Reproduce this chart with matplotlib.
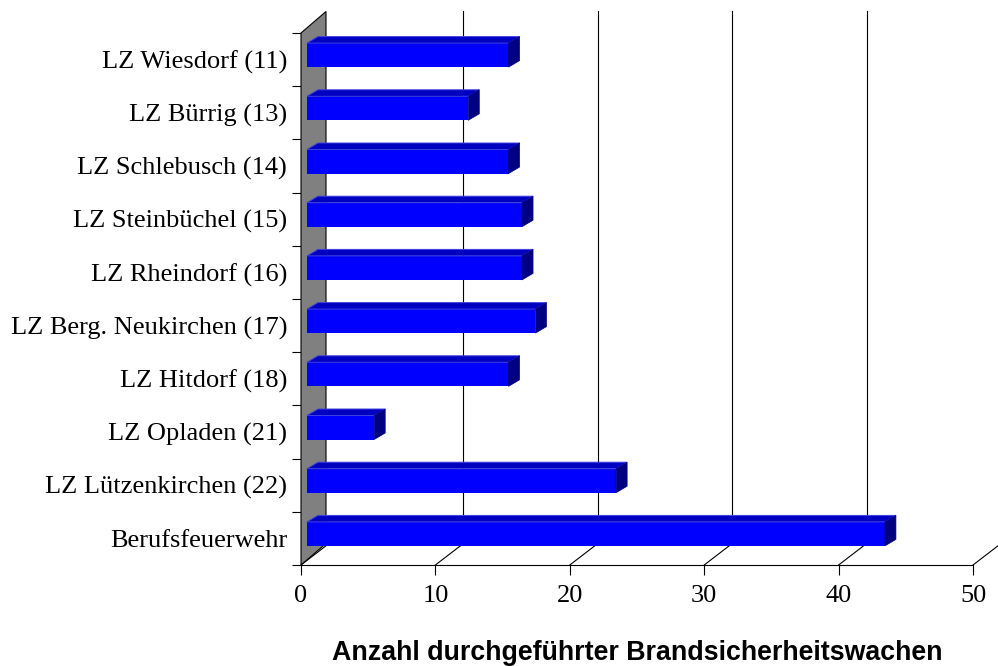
import matplotlib
matplotlib.use("Agg")
import matplotlib.pyplot as plt
from matplotlib.patches import Polygon

# data, top to bottom as in the chart
categories = ["LZ Wiesdorf (11)", "LZ Bürrig (13)", "LZ Schlebusch (14)",
              "LZ Steinbüchel (15)", "LZ Rheindorf (16)", "LZ Berg. Neukirchen (17)",
              "LZ Hitdorf (18)", "LZ Opladen (21)", "LZ Lützenkirchen (22)",
              "Berufsfeuerwehr"]
values = [15, 12, 15, 16, 16, 17, 15, 5, 23, 43]
xticks = [0, 10, 20, 30, 40, 50]
xlabel = "Anzahl durchgeführter Brandsicherheitswachen"

W, H = 998, 666
fig = plt.figure(figsize=(W / 100, H / 100), dpi=100)
# front plane: x 0..50 -> px 301..973, y 0..10 -> px 565..33
ax = fig.add_axes([301 / W, (H - 565) / H, 672 / W, 532 / H])
ax.set_xlim(0, 50)
ax.set_ylim(0, 10)

sx = 672 / 50.0   # px per x unit
sy = 532 / 10.0   # px per category

# 3d offsets (px -> data units)
DX, DY = 28 / sx, 21.5 / sy          # depth of the chart box
WX = 25 / sx                         # wall thickness seen from the front
BX0 = 6 / sx                         # bar starts a little behind the wall front
BH = 24 / sy                         # bar front face height
BUP = 4.5 / sy                       # bar face shifted up in its slot
BDX, BDY = 11 / sx, 6.5 / sy         # bar depth

n = len(categories)
ypos = [n - 1 - i + 0.5 for i in range(n)]

# gridlines on the back wall
for v in xticks[1:]:
    ax.plot([v + DX, v + DX], [DY, 10 + DY], color="black", lw=0.8,
            clip_on=False, zorder=1)

# floor depth lines
for v in xticks:
    ax.plot([v, v + DX], [0, DY], color="black", lw=0.8, clip_on=False, zorder=1)

# grey side wall
wall = Polygon([(0, 0), (0, 10), (WX, 10 + DY), (WX, DY)], closed=True,
               facecolor="#808080", edgecolor="black", lw=0.8,
               clip_on=False, zorder=2)
ax.add_patch(wall)

# bars: front face via barh, top and side faces as polygons
yc = [y + BUP for y in ypos]
ax.barh(yc, values, height=BH, left=BX0, color="#0000FF", zorder=4)
for y, v in zip(yc, values):
    x0, x1 = BX0, BX0 + v
    y0, y1 = y - BH / 2, y + BH / 2
    top = Polygon([(x0, y1), (x0 + BDX, y1 + BDY), (x1 + BDX, y1 + BDY), (x1, y1)],
                  closed=True, facecolor="#0000C0", edgecolor="#4040E0",
                  lw=0.7, zorder=4, clip_on=False)
    side = Polygon([(x1, y0), (x1, y1), (x1 + BDX, y1 + BDY), (x1 + BDX, y0 + BDY)],
                   closed=True, facecolor="#000080", edgecolor="#000080",
                   lw=0.5, zorder=4, clip_on=False)
    ax.add_patch(top)
    ax.add_patch(side)

for s in ["top", "right", "left"]:
    ax.spines[s].set_visible(False)
ax.spines["bottom"].set_linewidth(0.8)

ax.set_xticks(xticks)
ax.set_xticklabels([str(t) for t in xticks], fontfamily="Liberation Serif", fontsize=19)
ax.tick_params(axis="x", direction="out", length=7.2, width=0.8, pad=7)

ax.set_yticks(range(0, 11))
ax.set_yticklabels([])
ax.tick_params(axis="y", which="major", direction="out", length=6.5, width=0.8)
ax.set_yticks(ypos, minor=True)
ax.set_yticklabels(categories, minor=True, fontfamily="Liberation Serif", fontsize=19)
ax.tick_params(axis="y", which="minor", length=0, pad=10)

ax.set_xlabel(xlabel, fontfamily="Liberation Sans", fontweight="bold",
              fontsize=19.3, labelpad=24)
ax.patch.set_visible(False)

fig.savefig("out.png", dpi=100)
